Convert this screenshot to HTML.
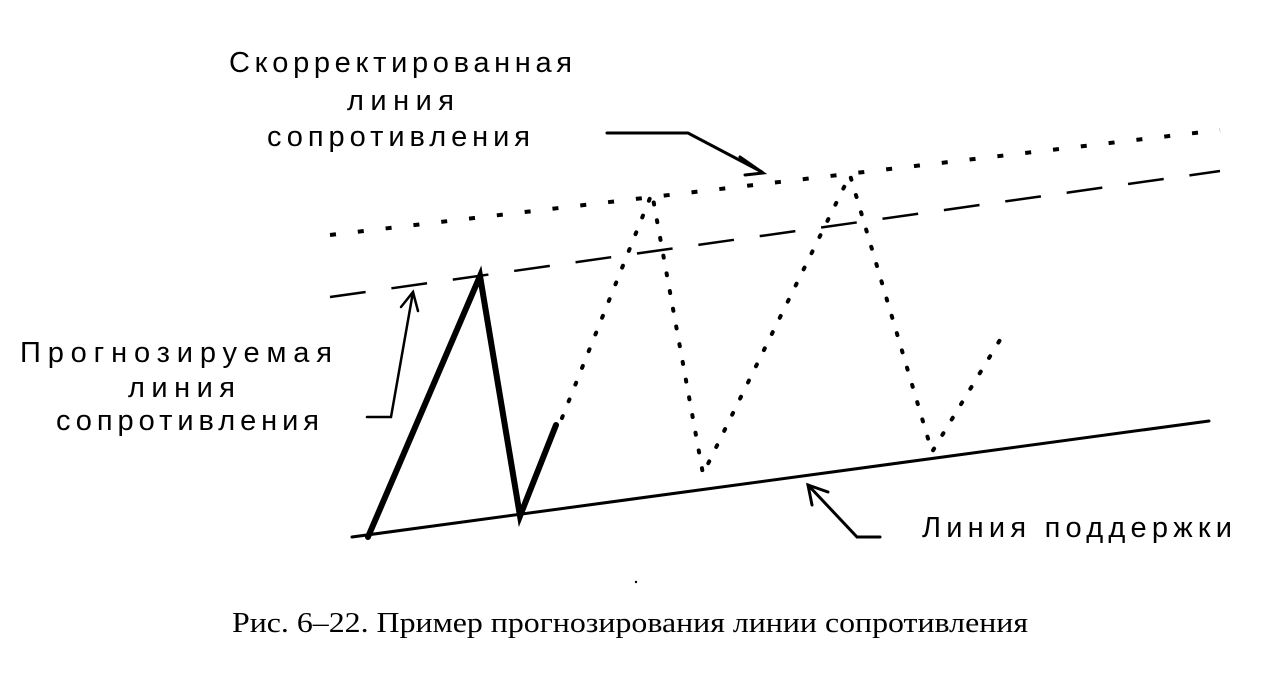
<!DOCTYPE html>
<html><head><meta charset="utf-8"><style>html,body{margin:0;padding:0;background:#fff}svg{display:block}</style></head>
<body>
<svg width="1288" height="680" viewBox="0 0 1288 680" xmlns="http://www.w3.org/2000/svg">
<g stroke="#000" fill="none" stroke-linecap="round">
<!-- support line -->
<line x1="352" y1="537" x2="1209" y2="421" stroke-width="3"/>
<!-- dotted corrected resistance -->
<line x1="330" y1="235" x2="1220" y2="130" stroke-width="4" stroke-dasharray="6 22" stroke-linecap="butt"/>
<!-- dashed forecast -->
<line x1="330" y1="297" x2="1220" y2="171" stroke-width="2.5" stroke-dasharray="36 26" stroke-linecap="butt"/>
<!-- thick price -->
<polyline points="368,537 480,276 520,516 556,425" stroke-width="6" stroke-linejoin="miter"/>
<!-- dotted zigzag -->
<polyline points="562,418 652,193 703,474 850,175 932,452 1006,330" stroke-width="4" stroke-dasharray="2 16" stroke-linejoin="round"/>
<!-- arrow top -->
<polyline points="607,133 688,133 762,172" stroke-width="3"/>
<polyline points="740,157 763,173 745,175" stroke-width="3"/>
<!-- arrow left -->
<polyline points="367,417 391,417 413,292" stroke-width="2.5"/>
<polyline points="401,307 413,292 418,311" stroke-width="2.5"/>
<!-- arrow support -->
<polyline points="880,537 857,537 808,485" stroke-width="3"/>
<polyline points="812,505 808,485 828,492" stroke-width="3"/>
</g>
<g font-family="'Liberation Sans', 'DejaVu Sans', sans-serif" font-size="29" fill="#000">
<text x="229" y="72" textLength="343" lengthAdjust="spacing">Скорректированная</text>
<text x="347" y="110" textLength="107" lengthAdjust="spacing">линия</text>
<text x="267" y="146" textLength="263" lengthAdjust="spacing">сопротивления</text>
<text x="20" y="362" textLength="312" lengthAdjust="spacing">Прогнозируемая</text>
<text x="128" y="397" textLength="107" lengthAdjust="spacing">линия</text>
<text x="56" y="430" textLength="263" lengthAdjust="spacing">сопротивления</text>
<text x="922" y="537" textLength="310" lengthAdjust="spacing">Линия поддержки</text>
</g>
<text x="232" y="632" font-family="'Liberation Serif', serif" font-size="29" fill="#000" textLength="796" lengthAdjust="spacingAndGlyphs">Рис. 6–22. Пример прогнозирования линии сопротивления</text>
<circle cx="636" cy="582" r="1.2" fill="#000"/>
</svg>
</body></html>
